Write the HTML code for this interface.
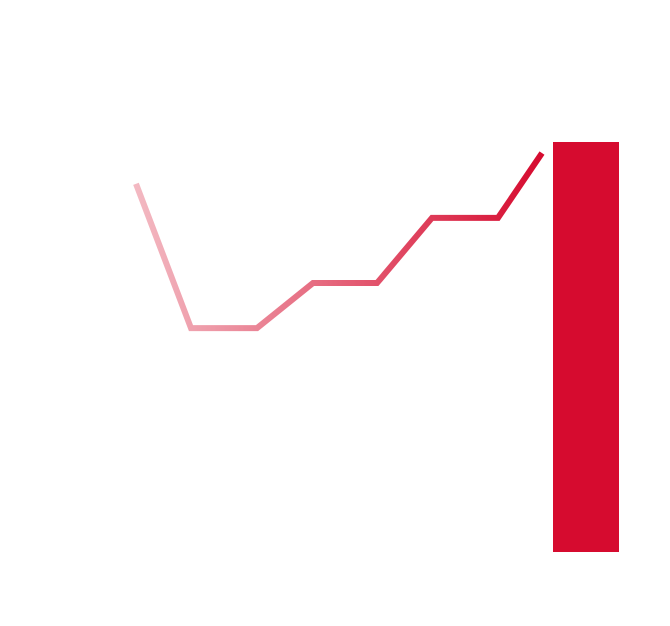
<!DOCTYPE html>
<html>
<head>
<meta charset="utf-8">
<style>
  html, body { margin: 0; padding: 0; background: #ffffff; }
  svg { display: block; }
</style>
</head>
<body>
<svg id="chart" width="670" height="626" viewBox="0 0 670 626" xmlns="http://www.w3.org/2000/svg">
  <defs>
    <linearGradient id="lineGrad" x1="136" y1="0" x2="542" y2="0" gradientUnits="userSpaceOnUse">
      <stop offset="0" stop-color="#f3b9c2"/>
      <stop offset="1" stop-color="#d60b2f"/>
    </linearGradient>
  </defs>
</svg>
<script>
// data
const lineX = [0, 55, 121, 177, 241, 296, 362, 406];
const lineValues = [89.8, 54.6, 54.6, 65.6, 65.6, 81.5, 81.5, 97.3];
const barValues = [100];

// axes
const baseY = 552, pxPerUnit = 4.1, originX = 136;
function y(v) { return baseY - v * pxPerUnit; }
function x(d) { return originX + d; }

const svg = document.getElementById('chart');
const NS = 'http://www.w3.org/2000/svg';

const pts = lineValues.map((v, i) => x(lineX[i]) + ',' + y(v)).join(' ');
const line = document.createElementNS(NS, 'polyline');
line.setAttribute('points', pts);
line.setAttribute('fill', 'none');
line.setAttribute('stroke', 'url(#lineGrad)');
line.setAttribute('stroke-width', '6');
line.setAttribute('stroke-linejoin', 'miter');


svg.appendChild(line);

barValues.forEach((v, i) => {
  const r = document.createElementNS(NS, 'rect');
  r.setAttribute('x', 553 + i * 70);
  r.setAttribute('y', y(v));
  r.setAttribute('width', 66);
  r.setAttribute('height', baseY - y(v));
  r.setAttribute('fill', '#d60b2f');
  
  
  svg.appendChild(r);
});
</script>
</body>
</html>
